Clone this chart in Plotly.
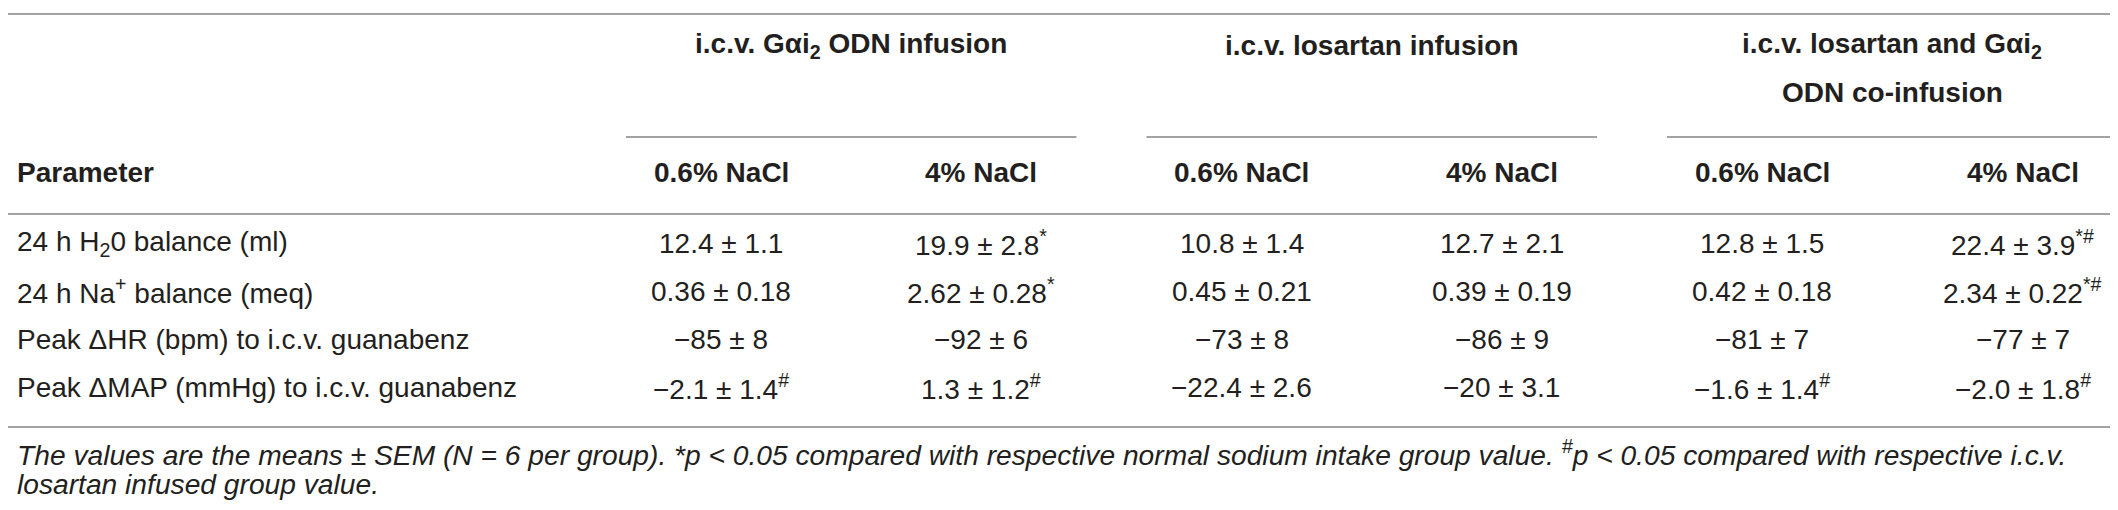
import plotly.graph_objects as go

# table content
group_titles = ["i.c.v. G\u03b1i<sub>2</sub> ODN infusion",
                "i.c.v. losartan infusion",
                "i.c.v. losartan and G\u03b1i<sub>2</sub><br>ODN co-infusion"]
col_headers = ["0.6% NaCl", "4% NaCl", "0.6% NaCl", "4% NaCl", "0.6% NaCl", "4% NaCl"]
param_header = "Parameter"
params = ["24 h H<sub>2</sub>0 balance (ml)",
          "24 h Na<sup>+</sup> balance (meq)",
          "Peak \u0394HR (bpm) to i.c.v. guanabenz",
          "Peak \u0394MAP (mmHg) to i.c.v. guanabenz"]

# one list per column: mean, sem, significance marks
gai2_low = [("12.4", "1.1", ""), ("0.36", "0.18", ""), ("\u221285", "8", ""), ("\u22122.1", "1.4", "#")]
gai2_high = [("19.9", "2.8", "*"), ("2.62", "0.28", "*"), ("\u221292", "6", ""), ("1.3", "1.2", "#")]
los_low = [("10.8", "1.4", ""), ("0.45", "0.21", ""), ("\u221273", "8", ""), ("\u221222.4", "2.6", "")]
los_high = [("12.7", "2.1", ""), ("0.39", "0.19", ""), ("\u221286", "9", ""), ("\u221220", "3.1", "")]
co_low = [("12.8", "1.5", ""), ("0.42", "0.18", ""), ("\u221281", "7", ""), ("\u22121.6", "1.4", "#")]
co_high = [("22.4", "3.9", "*#"), ("2.34", "0.22", "*#"), ("\u221277", "7", ""), ("\u22122.0", "1.8", "#")]
columns = [gai2_low, gai2_high, los_low, los_high, co_low, co_high]

footnote = ["The values are the means \u00b1 SEM (N = 6 per group). *p &lt; 0.05 compared with respective normal "
            "sodium intake group value. <sup>#</sup>p &lt; 0.05 compared with respective i.c.v.",
            "losartan infused group value."]

W, H = 2118, 510
FONT = "Liberation Sans"
TXT = "#231f20"
LINE = "#a3a3a3"
SIZE = 28
DY = -6           # text box centre sits a little below the cap centre

col_x0 = 713      # centre of first value column
col_step = 260.3
row_y0 = 241
row_step = 48

fig = go.Figure()
ann = []
shapes = []


def hline(y, x0=0, x1=W):
    shapes.append(dict(type="line", xref="x", yref="y", x0=x0, x1=x1, y0=y, y1=y,
                       line=dict(color=LINE, width=2)))


def label(x, y, text, anchor="center", weight="normal", style="normal", size=SIZE):
    ann.append(dict(x=x, y=y + DY, text=text, xanchor=anchor, yanchor="middle",
                    xref="x", yref="y", showarrow=False,
                    font=dict(family=FONT, size=size, color=TXT, weight=weight, style=style)))


hline(6)
hline(206)
hline(419)

for g, title in enumerate(group_titles):
    cx = col_x0 + col_step * (2 * g + 0.5)
    for k, part in enumerate(title.split("<br>")):
        label(cx, 43 + 47 * k, part, weight="bold")
    left = col_x0 + col_step * (2 * g) - col_step / 2 + 35
    right = min(col_x0 + col_step * (2 * g + 1) + col_step / 2 - 35, W - 4)
    hline(129, left, right)

label(7, 170, param_header, anchor="left", weight="bold")
for c, h in enumerate(col_headers):
    label(col_x0 + col_step * c, 170, h, weight="bold")

for r, p in enumerate(params):
    y = row_y0 + row_step * r
    label(7, y, p, anchor="left")
    for c, col in enumerate(columns):
        mean, sem, mark = col[r]
        t = mean + " \u00b1 " + sem
        if mark:
            t += "<sup>" + mark + "</sup>"
        label(col_x0 + col_step * c, y, t)

for k, line in enumerate(footnote):
    label(7, 451 + 31 * k, line, anchor="left", style="italic", size=28.2)

fig.update_layout(width=W, height=H, margin=dict(l=0, r=0, t=0, b=0),
                  paper_bgcolor="white", plot_bgcolor="white",
                  xaxis=dict(range=[0, W], visible=False, fixedrange=True),
                  yaxis=dict(range=[H, 0], visible=False, fixedrange=True),
                  annotations=ann, shapes=shapes, showlegend=False)

fig.write_html("out.html", config={"displayModeBar": False})
